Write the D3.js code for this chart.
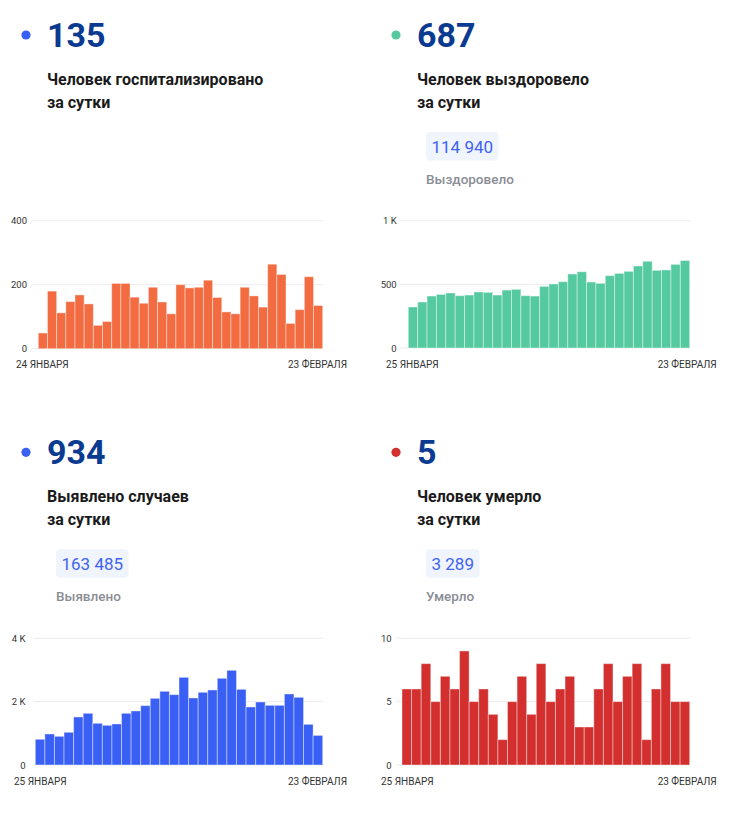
<!DOCTYPE html>
<html><head><meta charset="utf-8">
<script src="https://cdn.jsdelivr.net/npm/d3@7/dist/d3.min.js"></script>
<style>
body{margin:0;background:#fff;}
text{font-family:Roboto,"Noto Sans",sans-serif;}
</style></head>
<body><svg id="c" width="734" height="820"></svg>
<script>
// ---------- DATA ----------
const hospDates = ["24.01","25.01","26.01","27.01","28.01","29.01","30.01","31.01","01.02","02.02","03.02","04.02","05.02","06.02","07.02","08.02","09.02","10.02","11.02","12.02","13.02","14.02","15.02","16.02","17.02","18.02","19.02","20.02","21.02","22.02","23.02"];
const hospValues = [49,180,112,147,168,140,73,85,204,204,161,142,192,146,109,200,190,192,214,160,115,109,192,165,130,264,232,79,122,225,135];

const dates30 = ["25.01","26.01","27.01","28.01","29.01","30.01","31.01","01.02","02.02","03.02","04.02","05.02","06.02","07.02","08.02","09.02","10.02","11.02","12.02","13.02","14.02","15.02","16.02","17.02","18.02","19.02","20.02","21.02","22.02","23.02"];
const recoveredValues = [322,361,408,421,432,411,416,440,437,416,455,461,411,408,484,503,521,581,599,518,508,568,586,602,644,681,610,613,657,687];
const casesValues = [811,979,905,1032,1516,1632,1316,1253,1295,1632,1705,1874,2105,2326,2221,2768,2116,2295,2368,2737,2989,2389,1832,1989,1884,1884,2242,2137,1284,934];
const deathsValues = [6,6,8,5,7,6,9,5,6,4,2,5,7,4,8,5,6,7,3,3,6,8,5,7,8,2,6,8,5,5];

const headlineNumbers = ["135","687","934","5"];
const titlesLine1 = ["Человек госпитализировано","Человек выздоровело","Выявлено случаев","Человек умерло"];
const titleLine2 = "за сутки";
const totals = [null,"114 940","163 485","3 289"];
const totalLabels = [null,"Выздоровело","Выявлено","Умерло"];
const hospTicks = [0,200,400];
const recTicks = [0,500,1000];
const casesTicks = [0,2000,4000];
const deathTicks = [0,5,10];
const startLabels = ["24 ЯНВАРЯ","25 ЯНВАРЯ","25 ЯНВАРЯ","25 ЯНВАРЯ"];
const endLabel = "23 ФЕВРАЛЯ";

// ---------- DRAW ----------
const svg = d3.select("#c");
const navy = "#0b3a91";
const blue = "#3a5ff5";

const panels = [
  {ox:0,  oy:0,   dot:blue,      bar:"#f26b41", dates:hospDates, values:hospValues, ticks:hospTicks, max:400,
   fmt:d=>String(d), labelR:27, gridX0:31.7, barX0:38.3, y0:348.7, y1:220.7, dateY:368, startX:16},
  {ox:367,oy:0,   dot:"#55c9a0", bar:"#55c9a0", dates:dates30, values:recoveredValues, ticks:recTicks, max:1000,
   fmt:d=>d>=1000?(d/1000)+" K":String(d), labelR:29.7, gridX0:33, barX0:41.3, y0:348, y1:220.7, dateY:368, startX:19},
  {ox:0,  oy:417.3, dot:blue,    bar:"#3a5ff5", dates:dates30, values:casesValues, ticks:casesTicks, max:4000,
   fmt:d=>d>=1000?(d/1000)+" K":String(d), labelR:25.5, gridX0:33.3, barX0:35.3, y0:347.7, y1:221, dateY:367.4, startX:14},
  {ox:367,oy:417.3, dot:"#d32f2f", bar:"#d32f2f", dates:dates30, values:deathsValues, ticks:deathTicks, max:10,
   fmt:d=>String(d), labelR:24.7, gridX0:29, barX0:35, y0:347.7, y1:221, dateY:367.4, startX:14}
];

panels.forEach((p,i)=>{
  const g = svg.append("g").attr("transform",`translate(${p.ox},${p.oy})`);
  // header
  g.append("circle").attr("cx",i%2? 29:26).attr("cy",35).attr("r",4.6).attr("fill",p.dot);
  g.append("text").attr("x",i%2?50:47).attr("y",46.7).attr("font-size",34).attr("font-weight",700)
    .attr("fill",navy).text(headlineNumbers[i]);
  g.append("text").attr("x",i%2?50:47).attr("y",85).attr("font-size",16).attr("font-weight",700)
    .attr("fill","#1a1a1a").text(titlesLine1[i]);
  g.append("text").attr("x",i%2?50:47).attr("y",108).attr("font-size",16).attr("font-weight",700)
    .attr("fill","#1a1a1a").text(titleLine2);
  if (totals[i]) {
    const bx = i%2?59:56;
    const t = g.append("text").attr("x",bx+5.5).attr("y",153).attr("font-size",17)
      .attr("fill","#3f63f2").text(totals[i]);
    const w = t.node().getComputedTextLength();
    g.insert("rect","text").attr("x",bx).attr("y",132).attr("width",w+11).attr("height",28.5)
      .attr("rx",4).attr("fill","#eff4fd");
    g.append("text").attr("x",bx).attr("y",184).attr("font-size",13.5).attr("font-weight",500)
      .attr("fill","#8a8d94").text(totalLabels[i]);
  }
  // chart
  const xEnd = 322.7;
  const x = d3.scaleBand().domain(p.dates).range([p.barX0, xEnd]).padding(0);
  const y = d3.scaleLinear().domain([0,p.max]).range([p.y0,p.y1]);
  g.append("g").selectAll("line").data(p.ticks).join("line")
    .attr("x1",p.gridX0).attr("x2",323.5).attr("y1",d=>y(d)).attr("y2",d=>y(d))
    .attr("stroke","#ececec").attr("stroke-width",1);
  const ax = g.append("g").attr("transform",`translate(${p.labelR},0)`)
    .call(d3.axisLeft(y).tickValues(p.ticks).tickSize(0).tickPadding(0).tickFormat(p.fmt));
  ax.select(".domain").remove();
  ax.selectAll("text").attr("font-size",9.5).attr("fill","#333").attr("font-family","Roboto, sans-serif");
  g.append("g").selectAll("rect").data(p.values).join("rect")
    .attr("x",(d,j)=>x(p.dates[j])).attr("width",x.bandwidth())
    .attr("y",d=>y(d)).attr("height",d=>y(0)-y(d))
    .attr("fill",p.bar).attr("stroke","rgba(255,255,255,0.4)").attr("stroke-width",1);
  g.append("text").attr("x",p.startX).attr("y",p.dateY).attr("font-size",10).attr("fill","#333")
    .text(startLabels[i]);
  g.append("text").attr("x",i%2?349.7:347).attr("y",p.dateY).attr("font-size",10).attr("fill","#333")
    .attr("text-anchor","end").text(endLabel);
});
</script></body></html>
